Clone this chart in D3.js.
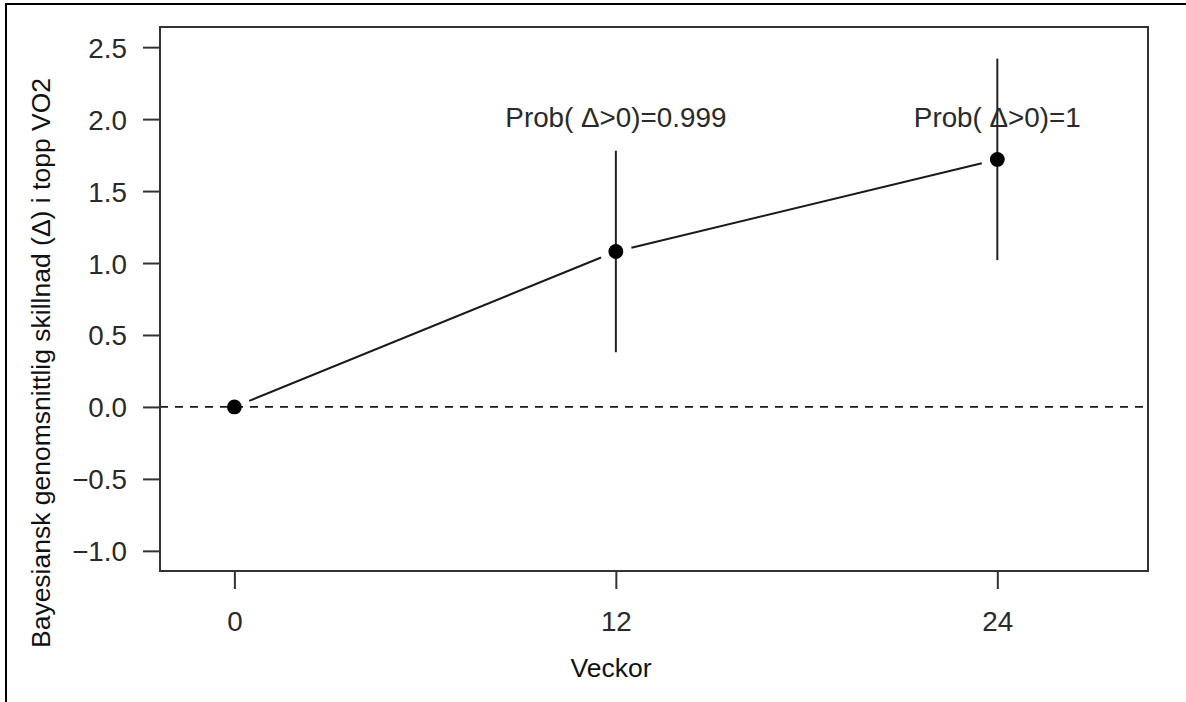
<!DOCTYPE html>
<html>
<head>
<meta charset="utf-8">
<script src="https://cdn.jsdelivr.net/npm/d3@7"></script>
<style>
  html, body { margin: 0; padding: 0; background: #fff; }
  svg { display: block; }
  text { font-family: "Liberation Sans", Arial, sans-serif; }
</style>
</head>
<body>
<svg id="chart" width="1186" height="702"></svg>
<script>
// ---- data ----
const weeks = [0, 12, 24];
const meanDiff = [0, 1.08, 1.72];
const ciLower = [null, 0.38, 1.02];
const ciUpper = [null, 1.78, 2.42];
const probLabels = ["", "Prob( \u0394>0)=0.999", "Prob( \u0394>0)=1"];
const probLabelY = 2.0;
const xTicks = [0, 12, 24];
const yTicks = [-1.0, -0.5, 0.0, 0.5, 1.0, 1.5, 2.0, 2.5];
const xTitle = "Veckor";
const yTitle = "Bayesiansk genomsnittlig skillnad (\u0394) i topp VO2";

// ---- layout ----
const svg = d3.select("#chart");
const box = { left: 160, right: 1148, top: 27, bottom: 571 };
const fontSize = 26.5;
const labelSize = 27.8;
const textColor = "#2a2a2a";
const lineColor = "#1a1a1a";

const x = d3.scaleLinear().domain([-2.34, 28.74]).range([box.left, box.right]);
const y = d3.scaleLinear().domain([-1.14, 2.64]).range([box.bottom, box.top]);

// outer frame (only top & left edges visible in the crop)
svg.append("rect")
  .attr("x", 6).attr("y", 4)
  .attr("width", 1300).attr("height", 900)
  .attr("fill", "none").attr("stroke", "#000").attr("stroke-width", 2);

// dashed zero reference line
svg.append("line")
  .attr("x1", box.left).attr("x2", box.right)
  .attr("y1", y(0)).attr("y2", y(0))
  .attr("stroke", lineColor).attr("stroke-width", 1.8)
  .attr("stroke-dasharray", "8,7");

// plot box
svg.append("rect")
  .attr("x", box.left).attr("y", box.top)
  .attr("width", box.right - box.left).attr("height", box.bottom - box.top)
  .attr("fill", "none").attr("stroke", "#333").attr("stroke-width", 2);

// axes
const yAxis = d3.axisLeft(y).tickValues(yTicks).tickFormat(d3.format(".1f"))
  .tickSize(17).tickPadding(16);
const gy = svg.append("g").attr("transform", `translate(${box.left},0)`).call(yAxis);
gy.select(".domain").remove();
gy.selectAll(".tick line").attr("stroke", "#333").attr("stroke-width", 2);
gy.selectAll(".tick text").attr("fill", textColor).style("font-size", labelSize + "px")
  .attr("dy", "0.36em");

const xAxis = d3.axisBottom(x).tickValues(xTicks).tickFormat(d3.format("d"))
  .tickSize(18).tickPadding(22);
const gx = svg.append("g").attr("transform", `translate(0,${box.bottom})`).call(xAxis);
gx.select(".domain").remove();
gx.selectAll(".tick line").attr("stroke", "#333").attr("stroke-width", 2);
gx.selectAll(".tick text").attr("fill", textColor).style("font-size", labelSize + "px");

// axis titles
svg.append("text")
  .attr("x", 611).attr("y", 677)
  .attr("text-anchor", "middle").attr("fill", "#111")
  .style("font-size", fontSize + "px").text(xTitle);

svg.append("text")
  .attr("transform", `translate(50,${363}) rotate(-90)`)
  .attr("text-anchor", "middle").attr("fill", "#111")
  .style("font-size", fontSize + "px").text(yTitle);

// data points
const pts = weeks.map((w, i) => ({ w, m: meanDiff[i], lo: ciLower[i], hi: ciUpper[i], lab: probLabels[i] }));

// connecting segments with gaps around points (R type="b")
const gap = 16;
for (let i = 0; i < pts.length - 1; i++) {
  const x1 = x(pts[i].w), y1 = y(pts[i].m), x2 = x(pts[i + 1].w), y2 = y(pts[i + 1].m);
  const len = Math.hypot(x2 - x1, y2 - y1);
  const ux = (x2 - x1) / len, uy = (y2 - y1) / len;
  svg.append("line")
    .attr("x1", x1 + ux * gap).attr("y1", y1 + uy * gap)
    .attr("x2", x2 - ux * gap).attr("y2", y2 - uy * gap)
    .attr("stroke", lineColor).attr("stroke-width", 2);
}

// credible-interval bars
svg.selectAll("line.ci").data(pts.filter(p => p.lo !== null)).enter()
  .append("line").attr("class", "ci")
  .attr("x1", d => x(d.w)).attr("x2", d => x(d.w))
  .attr("y1", d => y(d.lo)).attr("y2", d => y(d.hi))
  .attr("stroke", "#222").attr("stroke-width", 2);

// points
svg.selectAll("circle.pt").data(pts).enter()
  .append("circle").attr("class", "pt")
  .attr("cx", d => x(d.w)).attr("cy", d => y(d.m)).attr("r", 7.4)
  .attr("fill", "#000");

// probability labels
svg.selectAll("text.prob").data(pts.filter(p => p.lab)).enter()
  .append("text").attr("class", "prob")
  .attr("x", d => x(d.w)).attr("y", y(probLabelY)).attr("dy", "0.3em")
  .attr("text-anchor", "middle").attr("fill", textColor)
  .style("font-size", labelSize + "px").text(d => d.lab);
</script>
</body>
</html>
